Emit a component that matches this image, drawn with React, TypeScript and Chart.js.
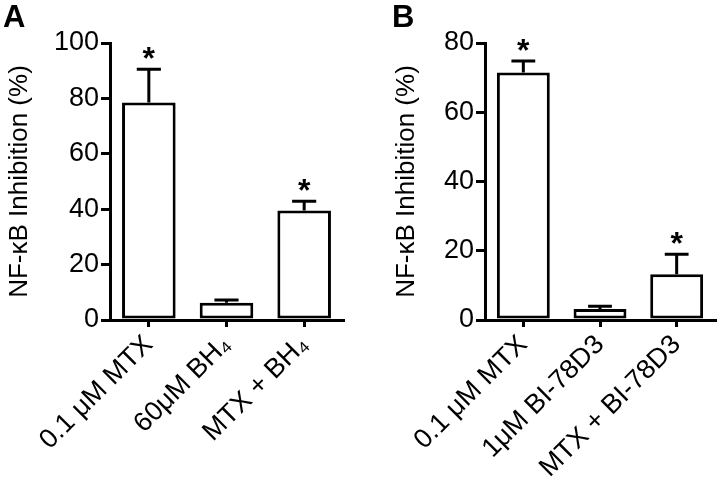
import React, { useEffect, useRef } from 'react';
import { Chart, registerables } from 'chart.js';

Chart.register(...registerables);

const FONT = "'Liberation Sans', Arial, Helvetica, sans-serif";
const TITLE = 'NF-κB Inhibition (%)';

// Panel A
const categoriesA = ['0.1 μM MTX', '60μM BH₄', 'MTX + BH₄'];
const valuesA = [78.5, 6.2, 39.5];
const errorsA = [12.0, 1.0, 3.4];
const starsA = [true, false, true];
const maxA = 100;

// Panel B
const categoriesB = ['0.1 μM MTX', '1μM BI-78D3', 'MTX + BI-78D3'];
const valuesB = [71.5, 3.2, 13.2];
const errorsB = [3.3, 0.8, 5.8];
const starsB = [true, false, true];
const maxB = 80;

const tickStep = 20;

type PanelProps = {
  letter: string;
  categories: string[];
  values: number[];
  errors: number[];
  stars: boolean[];
  yMax: number;
  padLeft: number;
  padRight: number;
  yWidth: number;
  letterX: number;
  left: number;
};

function Panel(p: PanelProps) {
  const ref = useRef<HTMLCanvasElement | null>(null);
  useEffect(() => {
    if (!ref.current) return;
    const errPlugin = {
      id: 'errorBars' + p.letter,
      afterDatasetsDraw(chart: any) {
        const ctx = chart.ctx as CanvasRenderingContext2D;
        const meta = chart.getDatasetMeta(0);
        const ys = chart.scales.y;
        ctx.save();
        ctx.strokeStyle = '#000';
        ctx.fillStyle = '#000';
        ctx.lineWidth = 3;
        meta.data.forEach((bar: any, i: number) => {
          const v = p.values[i];
          const e = p.errors[i];
          const yTop = ys.getPixelForValue(v + e);
          const yBar = ys.getPixelForValue(v);
          const half = (bar.width * 0.45) / 2;
          ctx.beginPath();
          ctx.moveTo(bar.x, yBar);
          ctx.lineTo(bar.x, yTop);
          ctx.moveTo(bar.x - half, yTop);
          ctx.lineTo(bar.x + half, yTop);
          ctx.stroke();
          if (p.stars[i]) {
            ctx.font = `bold 32px ${FONT}`;
            ctx.textAlign = 'center';
            ctx.textBaseline = 'alphabetic';
            ctx.fillText('*', bar.x, yTop);
          }
        });
        ctx.font = `bold 31px ${FONT}`;
        ctx.textAlign = 'left';
        ctx.textBaseline = 'alphabetic';
        ctx.fillText(p.letter, p.letterX, 27);
        ctx.restore();
      },
    };
    const chart = new Chart(ref.current, {
      type: 'bar',
      data: {
        labels: p.categories,
        datasets: [
          {
            data: p.values,
            backgroundColor: '#ffffff',
            borderColor: '#000000',
            borderWidth: 3,
            borderSkipped: false,
            barPercentage: 0.69,
            categoryPercentage: 1,
          },
        ],
      },
      options: {
        responsive: false,
        animation: false,
        devicePixelRatio: 1,
        layout: { padding: { left: p.padLeft, right: p.padRight, top: 43, bottom: 0 } },
        plugins: { legend: { display: false }, tooltip: { enabled: false } },
        scales: {
          x: {
            grid: {
              display: true,
              drawOnChartArea: false,
              drawTicks: true,
              tickLength: 7,
              lineWidth: 3,
              color: '#000',
              offset: false,
            },
            border: { display: true, color: '#000', width: 3 },
            ticks: {
              color: '#000',
              font: { size: 27, family: FONT },
              maxRotation: 45,
              minRotation: 45,
              padding: 2,
              autoSkip: false,
            },
            afterFit: (s: any) => {
              s.height = 161;
            },
          },
          y: {
            min: 0,
            max: p.yMax,
            ticks: {
              stepSize: tickStep,
              color: '#000',
              font: { size: 27, family: FONT },
              padding: 2,
            },
            grid: {
              display: true,
              drawOnChartArea: false,
              drawTicks: true,
              tickLength: 9,
              lineWidth: 3,
              color: '#000',
            },
            border: { display: true, color: '#000', width: 3 },
            title: {
              display: true,
              text: TITLE,
              color: '#000',
              font: { size: 26, family: FONT },
              padding: 4,
            },
            afterFit: (s: any) => {
              s.width = p.yWidth;
            },
          },
        },
      },
      plugins: [errPlugin],
    } as any);
    return () => chart.destroy();
  }, []);
  return (
    <canvas
      ref={ref}
      width={360}
      height={481}
      style={{ position: 'absolute', left: p.left, top: 0, width: 360, height: 481, display: 'block' }}
    />
  );
}

export default function App() {
  return (
    <div style={{ position: 'absolute', left: 0, top: 0, width: 720, height: 481, background: '#fff', overflow: 'hidden' }}>
      <Panel
        letter="A"
        categories={categoriesA}
        values={valuesA}
        errors={errorsA}
        stars={starsA}
        yMax={maxA}
        padLeft={0}
        padRight={17}
        yWidth={110}
        letterX={3}
        left={0}
      />
      <Panel
        letter="B"
        categories={categoriesB}
        values={valuesB}
        errors={errorsB}
        stars={starsB}
        yMax={maxB}
        padLeft={27}
        padRight={5}
        yWidth={98}
        letterX={32}
        left={360}
      />
    </div>
  );
}
